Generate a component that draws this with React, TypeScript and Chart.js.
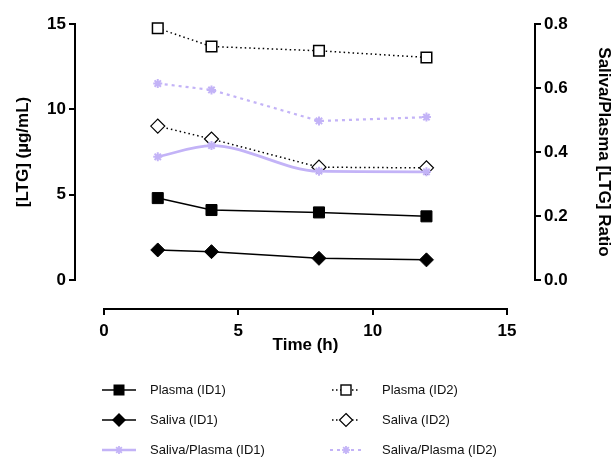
import React, { useEffect, useRef } from 'react';
import { Chart, registerables } from 'chart.js';

Chart.register(...registerables);

// ---- data ----
const times = [2, 4, 8, 12];
const plasmaID1 = [4.8, 4.1, 3.96, 3.73];
const salivaID1 = [1.76, 1.66, 1.27, 1.18];
const ratioID1 = [0.385, 0.42, 0.34, 0.338];
const plasmaID2 = [14.75, 13.68, 13.43, 13.04];
const salivaID2 = [9.02, 8.26, 6.61, 6.57];
const ratioID2 = [0.614, 0.594, 0.497, 0.509];
const leftTicks = [0, 5, 10, 15];
const rightTicks = [0, 0.2, 0.4, 0.6, 0.8];
const xTicks = [0, 5, 10, 15];

const FONT = '"Liberation Sans", Arial, sans-serif';
const LAV = '#c3b3f7';
const W = 614;
const H = 464;

const pts = (vals: number[]) => times.map((t, i) => ({ x: t, y: vals[i] }));

type Item = { label: string; kind: 'fsq' | 'fdi' | 'r1' | 'osq' | 'odi' | 'r2' };
const legendCol1: Item[] = [
  { label: 'Plasma (ID1)', kind: 'fsq' },
  { label: 'Saliva (ID1)', kind: 'fdi' },
  { label: 'Saliva/Plasma (ID1)', kind: 'r1' },
];
const legendCol2: Item[] = [
  { label: 'Plasma (ID2)', kind: 'osq' },
  { label: 'Saliva (ID2)', kind: 'odi' },
  { label: 'Saliva/Plasma (ID2)', kind: 'r2' },
];

function Star({ cx, cy, r }: { cx: number; cy: number; r: number }) {
  const d = r * 0.707;
  return (
    <g stroke={LAV} strokeWidth={1.8}>
      <line x1={cx - r} y1={cy} x2={cx + r} y2={cy} />
      <line x1={cx} y1={cy - r} x2={cx} y2={cy + r} />
      <line x1={cx - d} y1={cy - d} x2={cx + d} y2={cy + d} />
      <line x1={cx - d} y1={cy + d} x2={cx + d} y2={cy - d} />
    </g>
  );
}

function Symbol({ kind, w }: { kind: Item['kind']; w: number }) {
  const cy = 8;
  const cx = w / 2;
  let line: React.ReactNode = null;
  let marker: React.ReactNode = null;
  if (kind === 'fsq' || kind === 'fdi') {
    line = <line x1={0} y1={cy} x2={w} y2={cy} stroke="#000" strokeWidth={1.6} />;
  } else if (kind === 'osq' || kind === 'odi') {
    line = <line x1={2} y1={cy} x2={w - 2} y2={cy} stroke="#000" strokeWidth={1.4} strokeDasharray="1.5 2.5" />;
  } else if (kind === 'r1') {
    line = <line x1={0} y1={cy} x2={w} y2={cy} stroke={LAV} strokeWidth={2.5} />;
  } else {
    line = <line x1={0} y1={cy} x2={w} y2={cy} stroke={LAV} strokeWidth={2.2} strokeDasharray="3 4" />;
  }
  if (kind === 'fsq') marker = <rect x={cx - 5.5} y={cy - 5.5} width={11} height={11} fill="#000" />;
  if (kind === 'osq') marker = <rect x={cx - 5} y={cy - 5} width={10} height={10} fill="#fff" stroke="#000" strokeWidth={1.4} />;
  if (kind === 'fdi') marker = <polygon points={`${cx},${cy - 7} ${cx + 7},${cy} ${cx},${cy + 7} ${cx - 7},${cy}`} fill="#000" />;
  if (kind === 'odi') marker = <polygon points={`${cx},${cy - 6.5} ${cx + 6.5},${cy} ${cx},${cy + 6.5} ${cx - 6.5},${cy}`} fill="#fff" stroke="#000" strokeWidth={1.2} />;
  if (kind === 'r1' || kind === 'r2') marker = <Star cx={cx} cy={cy} r={4} />;
  return (
    <svg width={w} height={16} style={{ display: 'block' }}>
      {line}
      {marker}
    </svg>
  );
}

export default function App() {
  const mainRef = useRef<HTMLCanvasElement>(null);
  const axisRef = useRef<HTMLCanvasElement>(null);

  useEffect(() => {
    if (!mainRef.current || !axisRef.current) return;
    const tickFont = { family: FONT, size: 17, weight: 'bold' as const };
    const titleFont = { family: FONT, size: 17, weight: 'bold' as const };

    const main = new Chart(mainRef.current, {
      type: 'line',
      data: {
        datasets: [
          {
            label: 'Plasma (ID1)', data: pts(plasmaID1), yAxisID: 'y', clip: false,
            borderColor: '#000', borderWidth: 1.5, backgroundColor: '#000',
            pointStyle: 'rect', pointRadius: 7.8, pointBorderWidth: 1, pointBackgroundColor: '#000', pointBorderColor: '#000',
          },
          {
            label: 'Saliva (ID1)', data: pts(salivaID1), yAxisID: 'y', clip: false,
            borderColor: '#000', borderWidth: 1.5, backgroundColor: '#000',
            pointStyle: 'rectRot', pointRadius: 7, pointBorderWidth: 1, pointBackgroundColor: '#000', pointBorderColor: '#000',
          },
          {
            label: 'Saliva/Plasma (ID1)', data: pts(ratioID1), yAxisID: 'y2', clip: false,
            borderColor: LAV, borderWidth: 2.8, backgroundColor: LAV, cubicInterpolationMode: 'monotone',
            pointStyle: 'star', pointRadius: 4.5, pointBorderWidth: 2, pointBackgroundColor: LAV, pointBorderColor: LAV,
          },
          {
            label: 'Plasma (ID2)', data: pts(plasmaID2), yAxisID: 'y', clip: false,
            borderColor: '#000', borderWidth: 1.5, borderDash: [1.5, 3],
            pointStyle: 'rect', pointRadius: 7.5, pointBorderWidth: 1.5, pointBackgroundColor: '#fff', pointBorderColor: '#000',
          },
          {
            label: 'Saliva (ID2)', data: pts(salivaID2), yAxisID: 'y', clip: false,
            borderColor: '#000', borderWidth: 1.5, borderDash: [1.5, 3],
            pointStyle: 'rectRot', pointRadius: 7, pointBorderWidth: 1.2, pointBackgroundColor: '#fff', pointBorderColor: '#000',
          },
          {
            label: 'Saliva/Plasma (ID2)', data: pts(ratioID2), yAxisID: 'y2', clip: false,
            borderColor: LAV, borderWidth: 2.2, borderDash: [3, 4],
            pointStyle: 'star', pointRadius: 4.5, pointBorderWidth: 2, pointBackgroundColor: LAV, pointBorderColor: LAV,
          },
        ],
      },
      options: {
        animation: false,
        responsive: false,
        devicePixelRatio: 1,
        layout: { padding: { left: 0, right: 0, top: 24, bottom: H - 280 } },
        plugins: { legend: { display: false }, tooltip: { enabled: false } },
        scales: {
          x: { type: 'linear', display: false, min: -1.08, max: 16.04 },
          y: {
            type: 'linear', position: 'left', min: 0, max: 15,
            afterBuildTicks: (s: any) => { s.ticks = leftTicks.map((v) => ({ value: v })); },
            afterFit: (s: any) => { s.width = 75; },
            ticks: { color: '#000', font: tickFont, padding: 3 },
            grid: { drawOnChartArea: false, color: '#000', lineWidth: 2, tickLength: 6 },
            border: { color: '#000', width: 2 },
            title: { display: true, text: '[LTG] (µg/mL)', color: '#000', font: titleFont, padding: { top: 13, bottom: 0 } },
          },
          y2: {
            type: 'linear', position: 'right', min: 0, max: 0.8,
            afterBuildTicks: (s: any) => { s.ticks = rightTicks.map((v) => ({ value: v })); },
            afterFit: (s: any) => { s.width = W - 535; },
            ticks: { color: '#000', font: tickFont, padding: 3, callback: (v: any) => Number(v).toFixed(1) },
            grid: { drawOnChartArea: false, color: '#000', lineWidth: 2, tickLength: 6 },
            border: { color: '#000', width: 2 },
            title: { display: true, text: 'Saliva/Plasma [LTG] Ratio', color: '#000', font: titleFont, padding: { top: 0, bottom: 0 } },
          },
        },
      },
    } as any);

    const axis = new Chart(axisRef.current, {
      type: 'line',
      data: { datasets: [] },
      options: {
        animation: false,
        responsive: false,
        devicePixelRatio: 1,
        layout: { padding: { left: 104, right: W - 507, top: 0, bottom: H - 309 - 50 } },
        plugins: { legend: { display: false }, tooltip: { enabled: false } },
        scales: {
          x: {
            type: 'linear', position: 'bottom', min: 0, max: 15,
            afterBuildTicks: (s: any) => { s.ticks = xTicks.map((v) => ({ value: v })); },
            afterFit: (s: any) => { s.height = 50; },
            ticks: { color: '#000', font: tickFont, padding: 6, maxRotation: 0 },
            grid: { drawOnChartArea: false, color: '#000', lineWidth: 2, tickLength: 6 },
            border: { color: '#000', width: 2 },
            title: { display: true, text: 'Time (h)', color: '#000', font: titleFont, padding: { top: 0, bottom: 3 } },
          },
          y: { display: false, min: 0, max: 1 },
        },
      },
    } as any);

    return () => {
      main.destroy();
      axis.destroy();
    };
  }, []);

  const rowY = [390, 420, 450];
  const textStyle: React.CSSProperties = {
    position: 'absolute', fontFamily: FONT, fontSize: 13, color: '#111', whiteSpace: 'nowrap', lineHeight: '16px',
  };

  return (
    <div style={{ position: 'fixed', left: 0, top: 0, width: W, height: H, background: '#fff', overflow: 'hidden' }}>
      <canvas ref={mainRef} width={W} height={H} style={{ position: 'absolute', left: 0, top: 0 }} />
      <canvas ref={axisRef} width={W} height={H} style={{ position: 'absolute', left: 0, top: 0, pointerEvents: 'none' }} />
      {legendCol1.map((it, i) => (
        <React.Fragment key={'a' + i}>
          <div style={{ position: 'absolute', left: 102, top: rowY[i] - 8 }}>
            <Symbol kind={it.kind} w={34} />
          </div>
          <div style={{ ...textStyle, left: 150, top: rowY[i] - 8 }}>{it.label}</div>
        </React.Fragment>
      ))}
      {legendCol2.map((it, i) => (
        <React.Fragment key={'b' + i}>
          <div style={{ position: 'absolute', left: 330, top: rowY[i] - 8 }}>
            <Symbol kind={it.kind} w={32} />
          </div>
          <div style={{ ...textStyle, left: 382, top: rowY[i] - 8 }}>{it.label}</div>
        </React.Fragment>
      ))}
    </div>
  );
}
